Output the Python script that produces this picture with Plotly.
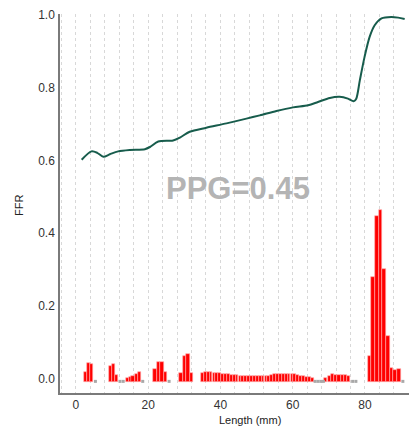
import plotly.graph_objects as go

# FFR pullback curve (length in mm, FFR)
curve_x = [1.6, 4.3, 5.9, 7.6, 9.4, 11.7, 14.9, 19.1, 20.5, 22.8, 26.9, 28.8, 31.5, 36.1,
           41.7, 47.2, 50.9, 55.5, 60.1, 64.3, 67.0, 70.3, 73.0, 75.3, 76.9, 77.6, 78.6,
           79.9, 81.3, 82.7, 84.6, 87.3, 89.2, 91.0]
curve_y = [0.602, 0.625, 0.621, 0.610, 0.617, 0.625, 0.629, 0.631, 0.637, 0.652, 0.655,
           0.663, 0.679, 0.690, 0.702, 0.715, 0.724, 0.736, 0.746, 0.752, 0.761, 0.772,
           0.775, 0.770, 0.763, 0.770, 0.821, 0.885, 0.940, 0.972, 0.991, 0.995, 0.993, 0.989]

# FFR gradient bars (position mm, top value)
bar_x = [2.6, 3.5, 4.3,
         9.6, 10.5, 11.3, 14.2, 15.0, 15.8, 16.7, 17.6,
         21.9, 22.9, 23.8, 24.8,
         29.1, 30.1, 31.0, 32.0,
         35.0, 35.8, 36.6, 37.4, 38.2, 39.0, 39.8, 40.6, 41.4, 42.2, 43.0, 43.8, 44.6,
         45.4, 46.2, 47.0, 47.8, 48.6, 49.4, 50.2, 51.0, 51.8, 52.6, 53.4, 54.2, 55.0,
         55.8, 56.6, 57.4, 58.2, 59.0, 59.8, 60.6, 61.4, 62.2, 63.0, 63.8, 64.6, 65.4,
         69.2, 70.1, 71.0, 71.9, 72.8, 73.7, 74.6, 75.5,
         81.3, 82.3, 83.3, 84.3, 85.3, 86.4, 87.4, 88.4, 89.5]
bar_top = [0.017, 0.043, 0.041,
           0.034, 0.039, 0.010, 0.002, 0.004, 0.007, 0.012, 0.017,
           0.025, 0.044, 0.044, 0.017,
           0.015, 0.061, 0.066, 0.016,
           0.015, 0.017, 0.018, 0.017, 0.016, 0.015, 0.014, 0.013, 0.012, 0.011, 0.010,
           0.010, 0.009, 0.008, 0.007, 0.007, 0.006, 0.006, 0.006, 0.006, 0.006, 0.006,
           0.007, 0.008, 0.009, 0.011, 0.012, 0.013, 0.013, 0.013, 0.013, 0.012, 0.011,
           0.010, 0.008, 0.006, 0.004, 0.003, 0.002,
           0.001, 0.006, 0.011, 0.010, 0.010, 0.010, 0.010, 0.006,
           0.063, 0.279, 0.447, 0.465, 0.300, 0.118, 0.028, 0.024, 0.026]
bar_width = [0.85] * 3 + [0.85] * 8 + [0.9] * 4 + [0.9] * 4 + [0.78] * 39 + [0.88] * 8 + [1.0] * 9

# near-zero gradient markers (grey)
zero_x = [5.4, 12.2, 13.1, 18.5, 25.8, 66.2, 67.0, 67.8, 68.5, 76.6, 77.5, 90.5]
zero_y = [-0.008] * len(zero_x)

bar_base = -0.011
x_ticks = [0, 20, 40, 60, 80]
y_ticks = [0.0, 0.2, 0.4, 0.6, 0.8, 1.0]

FONT = "Liberation Sans, Arial, Helvetica, sans-serif"

fig = go.Figure()
fig.add_trace(go.Bar(
    x=bar_x, y=[t - bar_base for t in bar_top], base=bar_base, width=bar_width,
    marker=dict(color="#ff0000", line=dict(color="#ffb0b0", width=0.6)),
    showlegend=False, hoverinfo="skip"))
fig.add_trace(go.Scatter(
    x=zero_x, y=zero_y, mode="markers",
    marker=dict(symbol="square", size=3, color="#a8a8a8", line=dict(width=0)),
    showlegend=False, hoverinfo="skip"))
fig.add_trace(go.Scatter(
    x=curve_x, y=curve_y, mode="lines",
    line=dict(color="#175c4c", width=2, shape="spline", smoothing=0.8),
    showlegend=False, hoverinfo="skip"))

fig.update_layout(
    width=416, height=428,
    margin=dict(l=60, r=7, t=14, b=35),
    paper_bgcolor="white", plot_bgcolor="white",
    font=dict(family=FONT, size=11.5, color="#333333"),
    bargap=0,
    xaxis=dict(
        range=[-4.4, 92.2], tickvals=x_ticks, ticktext=[str(v) for v in x_ticks],
        showline=True, linecolor="#7a7a7a", linewidth=1.5,
        showgrid=True, gridcolor="#d8d8d8", gridwidth=1, griddash="dot",
        minor=dict(dtick=4, tick0=0, showgrid=True, gridcolor="#d8d8d8",
                   gridwidth=1, griddash="dot", ticks=""),
        ticks="", ticklabelstandoff=0, zeroline=False,
        tickfont=dict(size=12, color="#333333")),
    yaxis=dict(
        range=[-0.040, 1.003], tickvals=y_ticks, ticktext=["%.1f" % v for v in y_ticks],
        showline=True, linecolor="#7a7a7a", linewidth=1.5,
        showgrid=False, zeroline=False, ticks="", ticklabelstandoff=1,
        tickfont=dict(size=12, color="#333333")),
    annotations=[
        dict(text="PPG=0.45", xref="paper", yref="paper",
             x=(238 - 60) / 349, y=(393 - 188) / 379, showarrow=False,
             xanchor="center", yanchor="middle",
             font=dict(family=FONT, size=31, color="#b4b4b4", weight="bold")),
        dict(text="Length (mm)", xref="paper", yref="paper",
             x=(250 - 60) / 349, y=(393 - 420) / 379, showarrow=False,
             xanchor="center", yanchor="middle",
             font=dict(family=FONT, size=11, color="#222222")),
        dict(text="FFR", xref="paper", yref="paper",
             x=(19 - 60) / 349, y=(393 - 206) / 379, showarrow=False,
             xanchor="center", yanchor="middle", textangle=-90,
             font=dict(family=FONT, size=11, color="#222222")),
    ],
)

fig.write_html("out.html")
